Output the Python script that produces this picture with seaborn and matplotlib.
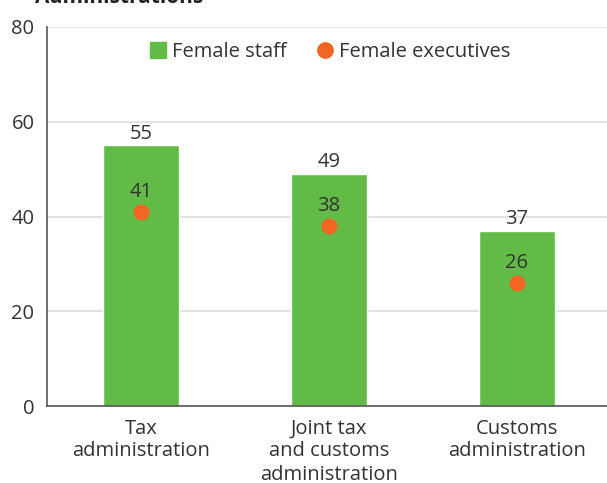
import matplotlib
matplotlib.use("Agg")
import matplotlib.pyplot as plt
from matplotlib.lines import Line2D
import pandas as pd
import seaborn as sns

categories = ["Tax\nadministration", "Joint tax\nand customs\nadministration", "Customs\nadministration"]
female_staff = [55, 49, 37]
female_executives = [41, 38, 26]
y_ticks = [0, 20, 40, 60, 80]

GREEN = "#62BB46"
ORANGE = "#F26522"
TEXT = "#333333"
FS = 14.5

sns.set_theme(style="white")
plt.rcParams["font.family"] = ["Open Sans", "DejaVu Sans"]

df = pd.DataFrame({"category": categories, "staff": female_staff, "execs": female_executives})

fig = plt.figure(figsize=(6.07, 4.83), dpi=100)
ax = fig.add_axes([47 / 607, 77 / 483, 564 / 607, 379 / 483])

sns.barplot(data=df, x="category", y="staff", order=categories, color=GREEN,
            saturation=1, width=0.4, ax=ax, zorder=2)
sns.stripplot(data=df, x="category", y="execs", order=categories, color=ORANGE,
              jitter=False, size=11.5, linewidth=0, ax=ax, zorder=3)

for i, (s, e) in enumerate(zip(female_staff, female_executives)):
    ax.annotate(f"{s}", (i, s), xytext=(0, 1), textcoords="offset points",
                ha="center", va="bottom", fontsize=FS, color=TEXT)
    ax.annotate(f"{e}", (i, e), xytext=(0, 7), textcoords="offset points",
                ha="center", va="bottom", fontsize=FS, color=TEXT)

ax.set_ylim(0, 80)
ax.set_xlim(-0.5, 2.5)
ax.set_yticks(y_ticks)
ax.yaxis.grid(True, color="#dddddd", linewidth=1.2, zorder=0)
ax.set_axisbelow(True)
ax.set_xlabel("")
ax.set_ylabel("")
ax.tick_params(axis="both", length=0, labelsize=FS, colors=TEXT)
ax.tick_params(axis="y", pad=9)
ax.tick_params(axis="x", pad=9)
for lbl in ax.get_xticklabels():
    lbl.set_linespacing(1.2)
    lbl.set_verticalalignment("top")

for side in ["top", "right"]:
    ax.spines[side].set_visible(False)
for side in ["left", "bottom"]:
    ax.spines[side].set_color("#555555")
    ax.spines[side].set_linewidth(1.2)

handles = [
    Line2D([], [], marker="s", linestyle="none", color=GREEN, markersize=11),
    Line2D([], [], marker="o", linestyle="none", color=ORANGE, markersize=11),
]
leg = ax.legend(handles, ["Female staff", "Female executives"], loc="upper center",
                bbox_to_anchor=(0.5, 1.008), ncol=2, frameon=False, fontsize=FS,
                handletextpad=0.2, columnspacing=1.4, handlelength=1.0)
for t in leg.get_texts():
    t.set_color(TEXT)

fig.text(35 / 607, 1 - 3 / 483, "Administrations", ha="left", va="baseline",
         fontsize=15, fontweight="bold", color="#222222")

fig.savefig("out.png", dpi=100)
